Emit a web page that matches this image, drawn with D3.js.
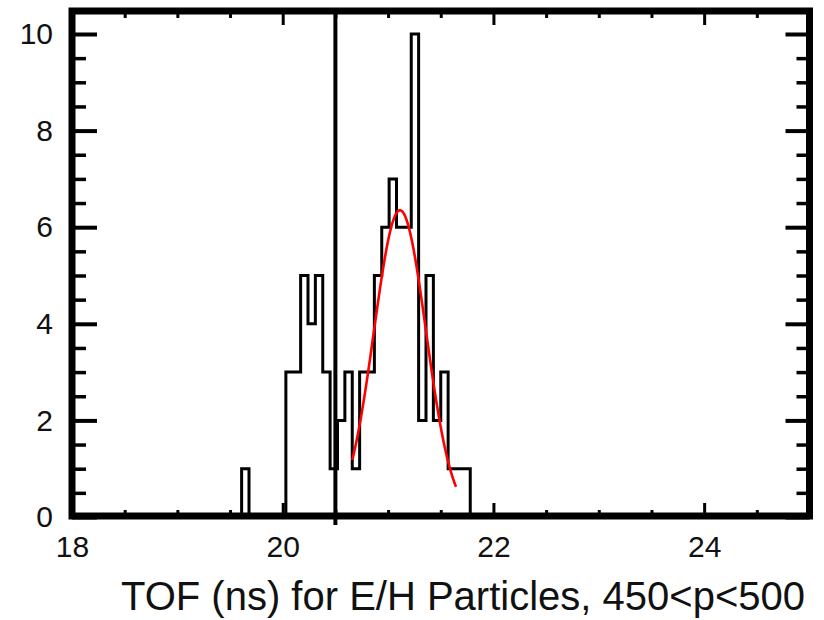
<!DOCTYPE html>
<html>
<head>
<meta charset="utf-8">
<script src="https://cdn.jsdelivr.net/npm/d3@7"></script>
<style>
  html, body { margin: 0; padding: 0; background: #fff; }
  svg { display: block; }
  text { font-family: "Liberation Sans", Arial, Helvetica, sans-serif; fill: #111; }
</style>
</head>
<body>
<svg id="chart" width="824" height="620"></svg>
<script>
// Histogram: 100 bins of 0.07 ns between 18 and 25 ns; only filled bins listed
const histMin = 18;
const histMax = 25;
const binWidth = 0.07;
const binLowEdges = [19.61, 20.02, 20.09, 20.16, 20.23, 20.30, 20.37, 20.44, 20.51, 20.58,
                     20.65, 20.72, 20.79, 20.86, 20.93, 21.00, 21.07, 21.14, 21.21, 21.28,
                     21.35, 21.42, 21.49, 21.56, 21.63, 21.70];
const binCounts   = [1, 3, 3, 5, 4, 5, 3, 1, 2, 3,
                     1, 3, 3, 5, 6, 7, 6, 6, 10, 2,
                     5, 2, 3, 1, 1, 1];

// Gaussian fit drawn over the peak
const fitAmplitude = 6.35;
const fitMean = 21.113;
const fitSigma = 0.247;
const fitRange = [20.66, 21.645];

// Selection cut
const cutValue = 20.5;

// Axes
const xMajorTicks = [18, 20, 22, 24];
const yMajorTicks = [0, 2, 4, 6, 8, 10];
const minorStep = 0.5;
const xLabel = "TOF (ns) for E/H Particles, 450<p<500";

const svg = d3.select("#chart");

const x = d3.scaleLinear().domain([histMin, histMax]).range([72, 809.5]);
const y = d3.scaleLinear().domain([0, 10.476]).range([517, 11]);

const xMinorTicks = d3.range(histMin, histMax + 1e-9, minorStep).filter(v => !xMajorTicks.includes(v));
const yMinorTicks = d3.range(0, 10.0001, minorStep).filter(v => !yMajorTicks.includes(v));

// Step outline of the histogram over the full range
const nBins = Math.round((histMax - histMin) / binWidth);
const steps = d3.range(nBins).map(i => ({ x: histMin + i * binWidth, y: 0 }));
binLowEdges.forEach((e, j) => {
  const i = Math.round((e - histMin) / binWidth);
  steps[i].y = binCounts[j];
});
steps.push({ x: histMax, y: 0 });

const stepLine = d3.line()
  .x(d => x(d.x))
  .y(d => y(d.y))
  .curve(d3.curveStepAfter);

svg.append("path")
  .datum(steps)
  .attr("d", stepLine)
  .attr("fill", "none")
  .attr("stroke", "#000")
  .attr("stroke-width", 3);

// Fitted Gaussian
const gauss = v => fitAmplitude * Math.exp(-((v - fitMean) ** 2) / (2 * fitSigma * fitSigma));
const fitPts = d3.range(fitRange[0], fitRange[1] + 1e-9, 0.005).map(v => ({ x: v, y: gauss(v) }));
svg.append("path")
  .datum(fitPts)
  .attr("d", d3.line().x(d => x(d.x)).y(d => y(d.y)))
  .attr("fill", "none")
  .attr("stroke", "#ff0000")
  .attr("stroke-width", 2.6);

// Cut line
svg.append("line")
  .attr("x1", x(cutValue)).attr("x2", x(cutValue))
  .attr("y1", y.range()[1]).attr("y2", y(0) + 8)
  .attr("stroke", "#000")
  .attr("stroke-width", 4);

// Inward ticks on all four sides
function styleTicks(g, width) {
  g.select(".domain").remove();
  g.selectAll(".tick line").attr("stroke", "#000").attr("stroke-width", width);
}

const [x0, x1] = x.range();
const [y0, y1] = y.range();

svg.append("g").attr("transform", `translate(0,${y0})`)
  .call(d3.axisBottom(x).tickValues(xMajorTicks).tickSize(-14).tickPadding(19).tickFormat(d3.format("d")))
  .call(g => styleTicks(g, 3))
  .call(g => g.selectAll("text").style("font-size", "30px").attr("fill", "#111"));
svg.append("g").attr("transform", `translate(0,${y0})`)
  .call(d3.axisBottom(x).tickValues(xMinorTicks).tickSize(-7).tickFormat(""))
  .call(g => styleTicks(g, 3));

svg.append("g").attr("transform", `translate(0,${y1})`)
  .call(d3.axisTop(x).tickValues(xMajorTicks).tickSize(-14).tickFormat(""))
  .call(g => styleTicks(g, 3));
svg.append("g").attr("transform", `translate(0,${y1})`)
  .call(d3.axisTop(x).tickValues(xMinorTicks).tickSize(-7).tickFormat(""))
  .call(g => styleTicks(g, 3));

svg.append("g").attr("transform", `translate(${x0},0)`)
  .call(d3.axisLeft(y).tickValues(yMajorTicks).tickSize(-25).tickPadding(19).tickFormat(d3.format("d")))
  .call(g => styleTicks(g, 4))
  .call(g => g.selectAll("text").style("font-size", "30px").attr("fill", "#111"));
svg.append("g").attr("transform", `translate(${x0},0)`)
  .call(d3.axisLeft(y).tickValues(yMinorTicks).tickSize(-14).tickFormat(""))
  .call(g => styleTicks(g, 3.5));

svg.append("g").attr("transform", `translate(${x1},0)`)
  .call(d3.axisRight(y).tickValues(yMajorTicks).tickSize(-24).tickFormat(""))
  .call(g => styleTicks(g, 4));
svg.append("g").attr("transform", `translate(${x1},0)`)
  .call(d3.axisRight(y).tickValues(yMinorTicks).tickSize(-13).tickFormat(""))
  .call(g => styleTicks(g, 3.5));

// Frame
svg.append("rect")
  .attr("x", x0).attr("y", y1)
  .attr("width", x1 - x0).attr("height", y0 - 1 - y1)
  .attr("fill", "none")
  .attr("stroke", "#000")
  .attr("stroke-width", 7);

// Axis title
svg.append("text")
  .attr("x", 805).attr("y", 610)
  .attr("text-anchor", "end")
  .style("font-size", "40px")
  .text(xLabel);
</script>
</body>
</html>
